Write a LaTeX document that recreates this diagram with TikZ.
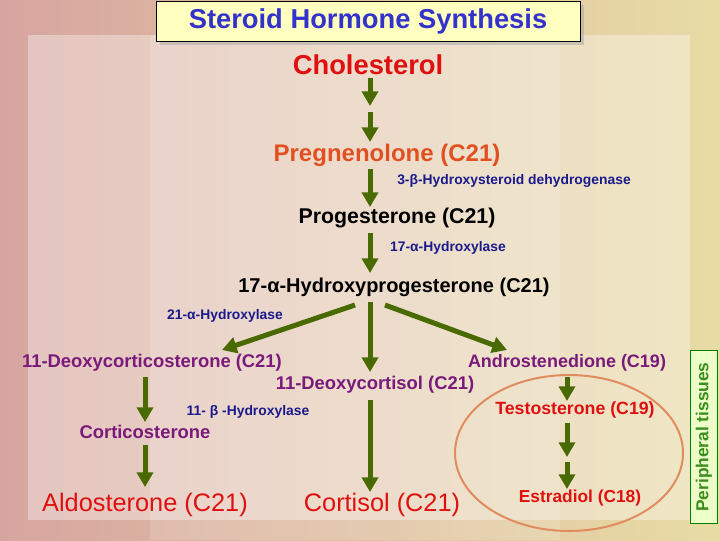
\documentclass[tikz,border=0pt]{standalone}
\usepackage{fontspec}
\setmainfont{Liberation Sans}
\usetikzlibrary{arrows.meta,shadows}
\definecolor{arrgreen}{HTML}{486A00}
\definecolor{navy}{HTML}{1A1A8C}
\definecolor{purp}{HTML}{7A1A7A}
\definecolor{redt}{HTML}{E01010}
\definecolor{orng}{HTML}{E05020}
\tikzset{
  flow/.style={draw=arrgreen,line width=3.75pt,-{Triangle[width=12pt,length=11pt]}},
  enz/.style={text=navy,font=\bfseries\fontsize{10.4}{12}\selectfont,inner sep=0pt},
  mid/.style={text=purp,font=\bfseries\fontsize{13.8}{16}\selectfont,inner sep=0pt},
  blk/.style={text=black,font=\bfseries\fontsize{15}{18}\selectfont,inner sep=0pt},
  fin/.style={text=redt,font=\fontsize{19}{22}\selectfont,inner sep=0pt},
}
\begin{document}
\begin{tikzpicture}[x=0.75pt,y=-0.75pt]
\useasboundingbox (0,0) rectangle (720,540);
\shade[left color={rgb,255:red,215;green,165;blue,160},right color={rgb,255:red,232;green,220;blue,165}] (0,0) rectangle (720,540);
\fill[white,opacity=0.35] (28,35) rectangle (690,520);
\fill[white,opacity=0.15] (150,35) rectangle (560,540);
% title
\node[draw=black,fill={rgb,255:red,255;green,255;blue,192},drop shadow={shadow xshift=3pt,shadow yshift=-3pt,fill=gray!70},minimum width=318pt,minimum height=30pt,text={rgb,255:red,51;green,51;blue,204},font=\bfseries\fontsize{20.5}{24}\selectfont] (title) at (368,21) {Steroid Hormone Synthesis};
\node[text=redt,font=\bfseries\fontsize{20.5}{24}\selectfont,inner sep=0pt] (chol) at (368,65) {Cholesterol};
\node[text=orng,font=\bfseries\fontsize{18}{21}\selectfont,inner sep=0pt] (preg) at (387,155) {Pregnenolone (C21)};
\node[enz] (e1) at (514,181) {3-β-Hydroxysteroid dehydrogenase};
\node[blk,font=\bfseries\fontsize{16}{19}\selectfont] (prog) at (397,218) {Progesterone (C21)};
\node[enz] (e2) at (448,248) {17-α-Hydroxylase};
\node[blk] (ohp) at (394,287) {17-α-Hydroxyprogesterone (C21)};
\node[enz] (e3) at (225,316) {21-α-Hydroxylase};
\node[mid] (doc) at (152,363) {11-Deoxycorticosterone (C21)};
\node[mid] (dcort) at (375,385) {11-Deoxycortisol (C21)};
\node[mid,font=\bfseries\fontsize{13.5}{16}\selectfont] (andro) at (567,363) {Androstenedione (C19)};
\node[enz] (e4) at (248,412) {11- β -Hydroxylase};
\node[mid,text=redt,font=\bfseries\fontsize{13.3}{16}\selectfont] (test) at (575,410) {Testosterone (C19)};
\node[mid] (cortico) at (145,432) {Corticosterone};
\node[fin] (aldo) at (145,505) {Aldosterone (C21)};
\node[fin] (cort) at (382,505) {Cortisol (C21)};
\node[text=redt,font=\bfseries\fontsize{13}{15}\selectfont,inner sep=0pt] (estr) at (580,498) {Estradiol (C18)};
\draw[draw={rgb,255:red,225;green,140;blue,95},line width=1.5pt] (569,453) ellipse [x radius=114,y radius=78];
\node[draw=green!50!black,fill={rgb,255:red,236;green,255;blue,200},rotate=90,minimum width=130pt,minimum height=20pt,inner sep=1pt,text={rgb,255:red,60;green,140;blue,30},font=\bfseries\fontsize{13}{15}\selectfont] (peri) at (704,437) {Peripheral tissues};
% arrows
\coordinate (a1s) at (370,78); \coordinate (a1e) at (370,106);
\coordinate (a2s) at (370,112); \coordinate (a2e) at (370,142);
\draw[flow] (a1s) -- (a1e);
\draw[flow] (a2s) -- (a2e);
\coordinate (b1s) at (370,169); \coordinate (b1e) at (370,207);
\draw[flow] (b1s) -- (b1e);
\coordinate (c1s) at (370,233); \coordinate (c1e) at (370,273);
\draw[flow] (c1s) -- (c1e);
\coordinate (d0) at (370,302);
\coordinate (dl) at (355,305); \coordinate (dle) at (222,350);
\coordinate (dr) at (385,305); \coordinate (dre) at (507,350);
\draw[flow] (dl) -- (dle);
\draw[flow] (dr) -- (dre);
\coordinate (dce) at (370,372);
\draw[flow] (d0) -- (dce);
\coordinate (f1s) at (370,400); \coordinate (f1e) at (370,492);
\draw[flow] (f1s) -- (f1e);
\coordinate (g1s) at (145,377); \coordinate (g1e) at (145,422);
\draw[flow] (g1s) -- (g1e);
\coordinate (g2s) at (145,445); \coordinate (g2e) at (145,487);
\draw[flow] (g2s) -- (g2e);
\coordinate (h1s) at (567,377); \coordinate (h1e) at (567,401);
\draw[flow] (h1s) -- (h1e);
\coordinate (h2s) at (567,423); \coordinate (h2e) at (567,457);
\draw[flow] (h2s) -- (h2e);
\coordinate (h3s) at (567,462); \coordinate (h3e) at (567,489);
\draw[flow] (h3s) -- (h3e);
\end{tikzpicture}
\end{document}
